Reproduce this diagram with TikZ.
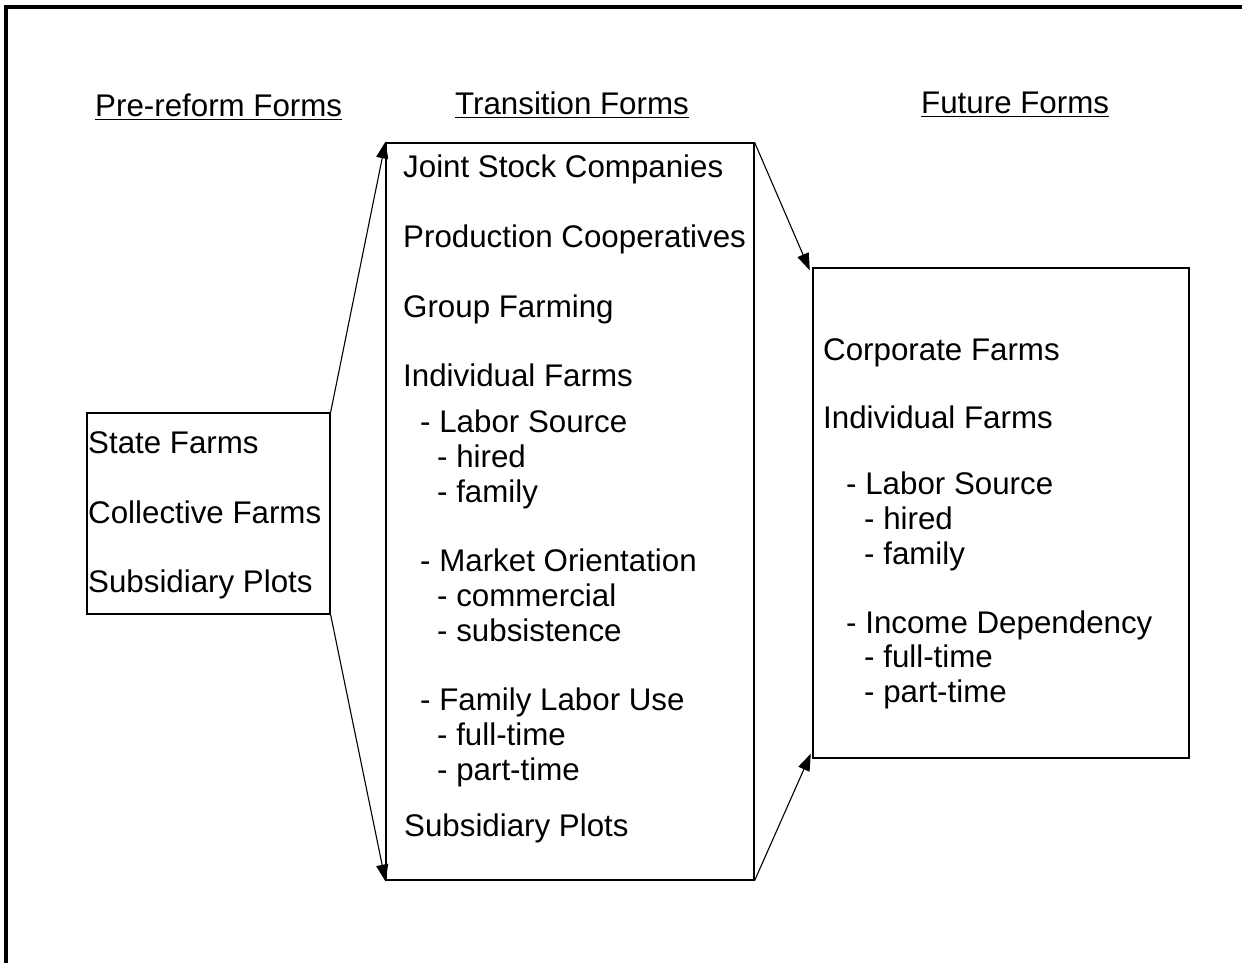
\documentclass[tikz,border=0pt]{standalone}
\usepackage{fontspec}
\setmainfont{Liberation Sans}
\usetikzlibrary{arrows.meta}
\begin{document}
\begin{tikzpicture}[x=1pt,y=-1pt,
  txt/.style={anchor=base west,inner sep=0pt,font=\fontsize{31.3}{36}\selectfont},
  box/.style={draw,line width=1.2pt,inner sep=0pt},
  arr/.style={line width=1.1pt,-{Triangle[length=17pt,width=12pt]},shorten >=-1pt}]
\useasboundingbox (0,0) rectangle (1242,963);
\draw[line width=3.5pt] (6,963) -- (6,7) -- (1242,7);
% headings
\node[txt] (h1) at (95,117) {\underline{Pre-reform Forms}};
\node[txt] (h2) at (455,115) {\underline{Transition Forms}};
\node[txt] (h3) at (921,114) {\underline{Future Forms}};
% boxes
\node[box,minimum width=243pt,minimum height=201pt] (L) at (208.5,513.5) {};
\node[box,minimum width=368pt,minimum height=737pt] (M) at (570,511.5) {};
\node[box,minimum width=376pt,minimum height=490pt] (R) at (1001,513) {};
% left texts
\node[txt] (l1) at (88,453) {State Farms};
\node[txt] (l2) at (88,523) {Collective Farms};
\node[txt] (l3) at (88,592) {Subsidiary Plots};
% middle texts
\node[txt] (m1) at (403,177) {Joint Stock Companies};
\node[txt] (m2) at (403,247) {Production Cooperatives};
\node[txt] (m3) at (403,317) {Group Farming};
\node[txt] (m4) at (403,386) {Individual Farms};
\node[txt] (m5) at (420,432) {- Labor Source};
\node[txt] (m6) at (437,467) {- hired};
\node[txt] (m7) at (437,502) {- family};
\node[txt] (m8) at (420,571) {- Market Orientation};
\node[txt] (m9) at (437,606) {- commercial};
\node[txt] (m10) at (437,641) {- subsistence};
\node[txt] (m11) at (420,710) {- Family Labor Use};
\node[txt] (m12) at (437,745) {- full-time};
\node[txt] (m13) at (437,780) {- part-time};
\node[txt] (m14) at (404,836) {Subsidiary Plots};
% right texts
\node[txt] (r1) at (823,360) {Corporate Farms};
\node[txt] (r2) at (823,428) {Individual Farms};
\node[txt] (r3) at (846,494) {- Labor Source};
\node[txt] (r4) at (864,529) {- hired};
\node[txt] (r5) at (864,564) {- family};
\node[txt] (r6) at (846,633) {- Income Dependency};
\node[txt] (r7) at (864,667) {- full-time};
\node[txt] (r8) at (864,702) {- part-time};
% connectors
\draw[arr] (L.north east) -- (M.north west);
\draw[arr] (L.south east) -- (M.south west);
\draw[arr] (M.north east) -- ([xshift=-3pt,yshift=-2pt]R.north west);
\draw[arr] (M.south east) -- ([xshift=-2pt,yshift=4pt]R.south west);
\end{tikzpicture}
\end{document}
